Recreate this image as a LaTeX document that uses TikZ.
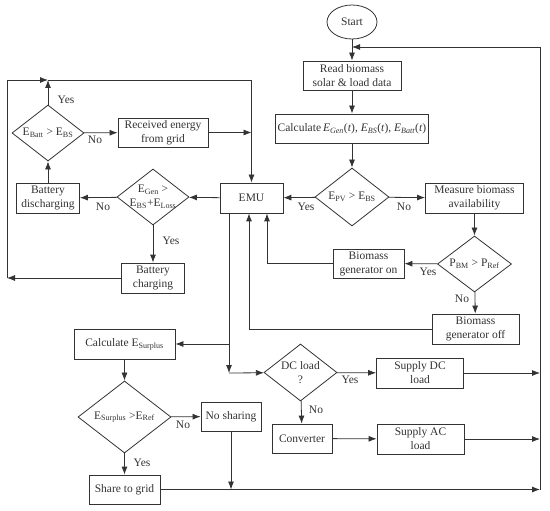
\documentclass[tikz,border=0pt]{standalone}
\usepackage{fontspec}
\setmainfont{Liberation Serif}
\usepackage{tikz}
\usetikzlibrary{shapes.geometric,arrows.meta}

\begin{document}
\begin{tikzpicture}[
  x=1pt, y=-1pt,
  font=\fontsize{11.5}{14}\selectfont,
  color=black!80, line width=0.8pt,
  >={Latex[length=8pt,width=6pt]},
  box/.style={draw, rectangle, inner sep=1pt, align=center},
  decision/.style={draw, diamond, aspect=1, inner sep=-6pt, align=center},
  terminal/.style={draw, ellipse, inner sep=0pt},
  lbl/.style={inner sep=1pt},
]
\useasboundingbox (0,0) rectangle (550,511);

% main column
\node[terminal, minimum width=50pt, minimum height=34pt] (start) at (352,22) {Start};
\node[box, minimum width=98pt, minimum height=29pt] (read) at (352,75.5) {Read biomass\\solar \& load data};
\node[box, minimum width=153pt, minimum height=29pt] (calc) at (352,128.5)
  {Calculate\,\textit{E}\textsubscript{\textit{Gen}}(\textit{t}), \textit{E}\textsubscript{\textit{BS}}(\textit{t}), \textit{E}\textsubscript{\textit{Batt}}(\textit{t})};
\node[decision, minimum width=74pt, minimum height=58pt] (epv) at (352,197) {E\textsubscript{PV} > E\textsubscript{BS}};
\node[box, minimum width=63pt, minimum height=30pt] (emu) at (251.5,198) {EMU};

% biomass branch
\node[box, minimum width=98pt, minimum height=30pt] (measure) at (474.5,198) {Measure biomass\\availability};
\node[decision, minimum width=74pt, minimum height=56pt] (pbm) at (474.5,264) {P\textsubscript{BM} > P\textsubscript{Ref}};
\node[box, minimum width=71pt, minimum height=29pt] (bgon) at (368.5,263.5) {Biomass\\generator on};
\node[box, minimum width=87pt, minimum height=30pt] (bgoff) at (475.5,329) {Biomass\\generator off};

% battery branch
\node[decision, minimum width=72pt, minimum height=56pt] (ebatt) at (48,133) {E\textsubscript{Batt} > E\textsubscript{BS}};
\node[box, minimum width=90pt, minimum height=29pt] (recv) at (163,132.5) {Received energy\\from grid};
\node[box, minimum width=63pt, minimum height=30pt] (bdis) at (48,198) {Battery\\discharging};
\node[decision, minimum width=72pt, minimum height=56pt] (egen) at (153,197) {E\textsubscript{Gen} >\\E\textsubscript{BS}+E\textsubscript{Loss}};
\node[box, minimum width=63pt, minimum height=30pt] (bchg) at (153,278) {Battery\\charging};

% surplus branch
\node[box, minimum width=101pt, minimum height=30pt] (esurcalc) at (124.5,344) {Calculate E\textsubscript{Surplus}};
\node[decision, minimum width=93pt, minimum height=72pt] (esur) at (124.5,417) {E\textsubscript{Surplus} >E\textsubscript{Ref}};
\node[box, minimum width=60pt, minimum height=29pt] (nosh) at (231,416.5) {No sharing};
\node[box, minimum width=71pt, minimum height=29pt] (share) at (124.5,489.5) {Share to grid};

% load branch
\node[decision, minimum width=73pt, minimum height=57pt] (dc) at (300.5,372.5) {DC load\\?};
\node[box, minimum width=87pt, minimum height=30pt] (supdc) at (420,373) {Supply DC\\load};
\node[box, minimum width=60pt, minimum height=29pt] (conv) at (302,438.5) {Converter};
\node[box, minimum width=87pt, minimum height=30pt] (supac) at (420.5,439) {Supply AC\\load};

% loop corners
\coordinate (join) at (352,47);
\coordinate (rt) at (540,47);
\coordinate (rb) at (540,489.5);
\coordinate (lt) at (7,80);
\coordinate (lb) at (7,278);
\coordinate (tr) at (251.5,80);
\coordinate (split) at (229,373);

% Yes / No labels
\node[lbl] (ebattY) at (66,100) {Yes};
\node[lbl] (ebattN) at (95,140) {No};
\node[lbl] (egenN) at (103,207) {No};
\node[lbl] (egenY) at (171,241) {Yes};
\node[lbl] (epvY) at (306,207) {Yes};
\node[lbl] (epvN) at (404,207) {No};
\node[lbl] (pbmY) at (428,272) {Yes};
\node[lbl] (pbmN) at (462,299) {No};
\node[lbl] (esurN) at (183,425) {No};
\node[lbl] (esurY) at (142,463) {Yes};
\node[lbl] (dcY) at (350,380) {Yes};
\node[lbl] (dcN) at (316,410) {No};

% main flow
\draw[->] (start) -- (read);
\draw[->] (read) -- (calc);
\draw[->] (calc) -- (epv);
\draw[->] (epv) -- (emu);
\draw[->] (epv) -- (measure);
\draw[->] (measure) -- (pbm);
\draw[->] (pbm) -- (bgon);
\draw[->] (pbm) -- (bgoff);
\draw[->] (bgon.west) -| ([xshift=15.5pt]emu.south);
\draw[->] (bgoff.west) -| ([xshift=-2.5pt]emu.south);

% battery side
\draw[->] (emu) -- (egen);
\draw[->] (egen) -- (bdis);
\draw[->] (egen) -- (bchg);
\draw[->] (bdis) -- (ebatt);
\draw[->] (ebatt) -- (recv);
\draw[->] (ebatt) -- (ebatt |- lt);
\draw[->] (recv) -- (recv -| tr);
\draw[->] (bchg) -- (lb);
\draw[->] (lb) -- (lt) -- (ebatt |- lt);
\draw[->] (ebatt |- lt) -- (tr) -- (emu);

% surplus and loads
\draw[->] ([xshift=-22.5pt]emu.south) -- (split);
\draw[->] (split |- esurcalc) -- (esurcalc);
\draw[->] (split) -- (dc);
\draw[->] (esurcalc) -- (esur);
\draw[->] (esur) -- (nosh);
\draw[->] (esur) -- (share);
\draw[->] (nosh) -- (nosh |- share);
\draw[->] (dc) -- (supdc);
\draw[->] (dc) -- (conv);
\draw[->] (conv) -- (supac);
\draw[->] (supdc) -- (supdc -| rb);
\draw[->] (supac) -- (supac -| rb);
\draw[->] (share) -- (rb);
\draw[->] (rb) -- (rt) -- (join);
\end{tikzpicture}
\end{document}
